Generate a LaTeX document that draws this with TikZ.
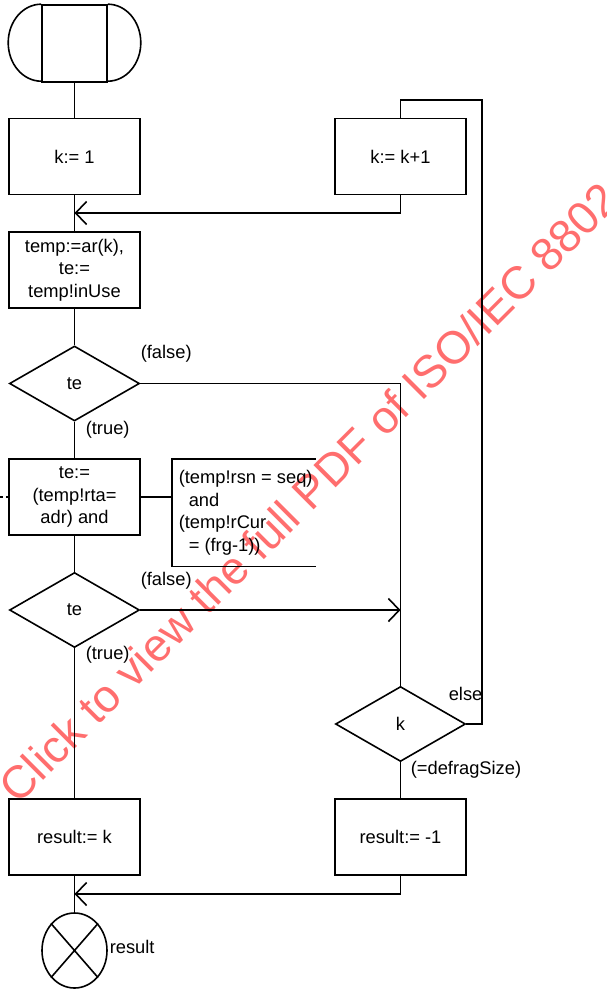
\documentclass[tikz,border=0pt]{standalone}
\usepackage{fontspec}
\setmainfont{Liberation Sans}
\usetikzlibrary{arrows.meta,shapes.geometric,calc}
\definecolor{MarkClr}{rgb}{1,0.43,0.43}

\begin{document}
\begin{tikzpicture}[x=0.5pt,y=-0.5pt,line width=0.8pt,
  every node/.style={font=\fontsize{9.15}{11.25}\selectfont},
  task/.style={draw,rectangle,minimum width=65.5pt,minimum height=38pt,inner sep=1pt,align=center},
  decision/.style={draw,diamond,minimum width=65pt,minimum height=37.5pt,inner sep=0pt},
  term/.style={draw,rectangle,minimum width=32.5pt,minimum height=38.5pt,inner sep=0pt},
  retsym/.style={draw,ellipse,minimum width=32.5pt,minimum height=37.5pt,inner sep=0pt},
  note/.style={rectangle,minimum height=53pt,inner sep=3pt,align=left,anchor=north west},
  lbl/.style={inner sep=0pt,anchor=west},
  jarrow/.style={-{Straight Barb[length=5.5pt,width=11.5pt]}}]
\useasboundingbox (0,0) rectangle (606,990);

\begin{scope}
\clip (0,0) rectangle (606,990);
\node[rotate=45,anchor=base west,inner sep=0pt,text=MarkClr,font=\fontsize{22.9}{27}\selectfont] (wm) at (18,806) {Click to view the full PDF of ISO/IEC 8802};
\end{scope}

\node[term] (start) at (74.5,43.5) {};
\draw (start.north west) arc[start angle=90,end angle=270,x radius=16.5pt,y radius=19.25pt];
\draw (start.north east) arc[start angle=90,end angle=-90,x radius=16.5pt,y radius=19.25pt];

\node[task] (k1) at (74.5,156.5) {k:= 1};
\node[task] (inc) at (400.5,156.5) {k:= k+1};
\node[task] (tmp) at (74.5,270) {temp:=ar(k),\\te:=\\temp!inUse};
\node[decision] (d1) at (74.5,383.5) {te};
\node[task] (te) at (74.5,497) {te:=\\(temp!rta=\\adr) and};
\node[note] (cmt) at (172,459) {(temp!rsn = seq)\\\hspace*{5pt}and\\(temp!rCur\\\hspace*{5pt}= (frg-1))};
\node[decision] (d2) at (74.5,610) {te};
\node[decision] (kdec) at (400.5,724) {k};
\node[task] (rk) at (74.5,837) {result:= k};
\node[task] (rm) at (400.5,837) {result:= -1};
\node[retsym] (ret) at (74.5,950.5) {};
\draw (ret.north west) -- (ret.south east) (ret.north east) -- (ret.south west);

\coordinate (loop) at (482,100);
\coordinate (j1) at (74.5,213);
\coordinate (j2) at (74.5,894);
\coordinate (cut) at (0,497);

\draw (start.south) -- (k1.north);
\draw (k1.south) -- (tmp.north);
\draw[jarrow] (inc.south) |- (j1);
\draw (tmp.south) -- (d1.north);
\draw (d1.east) -| (kdec.north);
\draw (d1.south) -- (te.north);
\draw (te.east) -- (te.east -| cmt.west);
\draw ([xshift=72pt]cmt.north west) -- (cmt.north west) -- (cmt.south west) -- ([xshift=72pt]cmt.south west);
\draw[dash pattern=on 1.5pt off 1.5pt] (cut) -- (te.west);
\draw (te.south) -- (d2.north);
\draw[jarrow] (d2.east) -- (d2.east -| kdec.north);
\draw (d2.south) -- (rk.north);
\draw (kdec.east) -| (loop) -| (inc.north);
\draw (kdec.south) -- (rm.north);
\draw[jarrow] (rm.south) |- (j2);
\draw (rk.south) -- (ret.north);

\node[lbl] (f1) at (140,354) {(false)};
\node[lbl] (t1) at (85,430) {(true)};
\node[lbl] (f2) at (140,581) {(false)};
\node[lbl] (t2) at (85,655) {(true)};
\node[lbl] (els) at (448,694) {else};
\node[lbl] (dfs) at (410,770) {(=defragSize)};
\node[lbl] (res) at (109,947) {result};

\end{tikzpicture}
\end{document}
